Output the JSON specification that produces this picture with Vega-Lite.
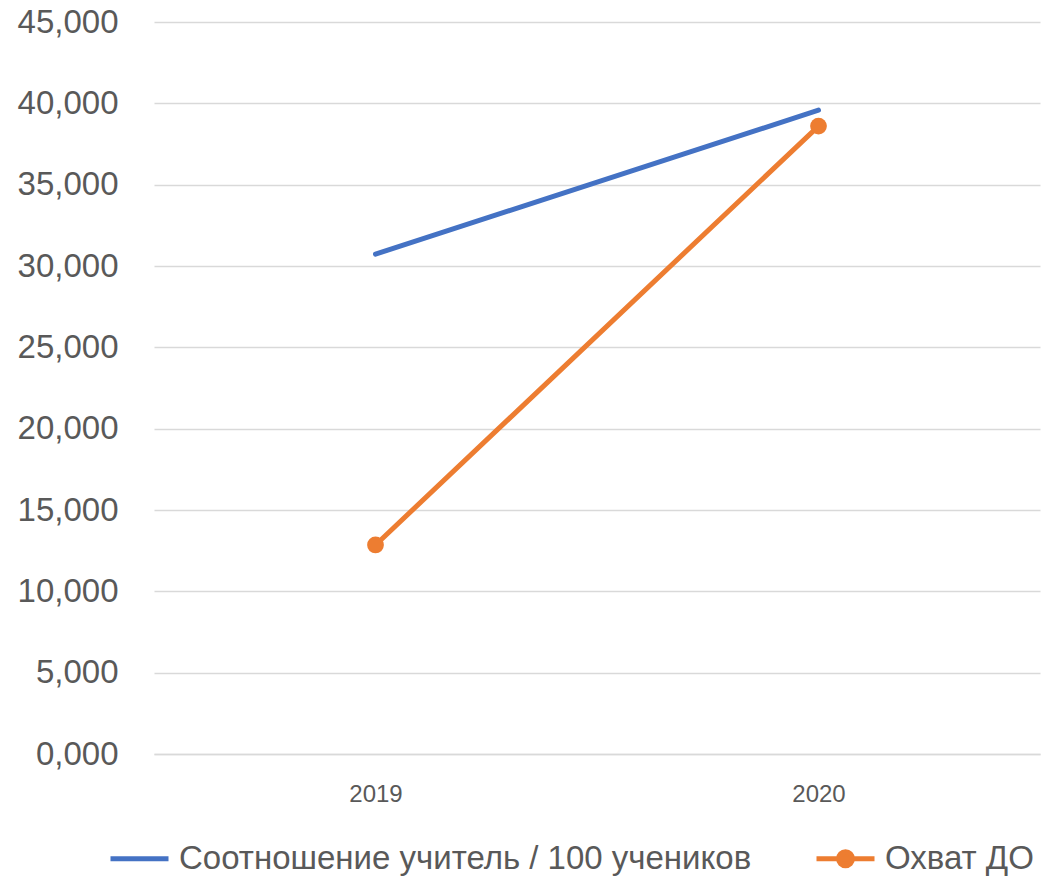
{
  "$schema": "https://vega.github.io/schema/vega-lite/v6.json",
  "width": 886,
  "height": 732,
  "autosize": {"type": "none"},
  "padding": {"left": 154, "top": 22, "right": 6, "bottom": 127},
  "background": "white",
  "config": {
    "view": {"stroke": null},
    "font": "Liberation Sans"
  },
  "data": {
    "values": [
      {"year": "2019", "series": "Соотношение учитель / 100 учеников", "value": 30.73},
      {"year": "2020", "series": "Соотношение учитель / 100 учеников", "value": 39.58},
      {"year": "2019", "series": "Охват ДО", "value": 12.85},
      {"year": "2020", "series": "Охват ДО", "value": 38.6}
    ]
  },
  "encoding": {
    "x": {
      "field": "year", "type": "ordinal",
      "scale": {"type": "point", "padding": 0.5},
      "axis": {
        "title": null, "labelAngle": 0, "ticks": false,
        "labelFontSize": 24, "labelColor": "#595959", "labelPadding": 28,
        "domainColor": "#D9D9D9", "domainWidth": 1.5
      }
    },
    "y": {
      "field": "value", "type": "quantitative",
      "scale": {"domain": [0, 45], "nice": false},
      "axis": {
        "title": null, "values": [0, 5, 10, 15, 20, 25, 30, 35, 40, 45],
        "labelExpr": "replace(format(datum.value, '.3f'), '.', ',')",
        "labelFontSize": 33, "labelColor": "#595959", "labelPadding": 36,
        "ticks": false, "domain": false,
        "gridColor": "#D9D9D9", "gridWidth": 1.5
      }
    },
    "color": {
      "field": "series", "type": "nominal",
      "sort": ["Соотношение учитель / 100 учеников", "Охват ДО"],
      "scale": {"domain": ["Соотношение учитель / 100 учеников", "Охват ДО"], "range": ["#4472C4", "#ED7D31"]},
      "legend": {
        "title": null, "orient": "none", "direction": "horizontal",
        "legendX": -46, "legendY": 805,
        "labelFontSize": 33, "labelColor": "#595959", "labelLimit": 800,
        "symbolSize": 3364, "symbolStrokeWidth": 5, "labelOffset": 8,
        "columnPadding": 54,
        "encode": {
          "symbols": {
            "update": {
              "shape": {"signal": "datum.value === 'Охват ДО' ? 'M-1,0L1,0M0.24,0A0.24,0.24,0,1,1,-0.24,0A0.24,0.24,0,1,1,0.24,0Z' : 'M-1,0L1,0'"},
              "fill": {"signal": "datum.value === 'Охват ДО' ? '#ED7D31' : 'transparent'"},
              "stroke": {"signal": "datum.value === 'Охват ДО' ? '#ED7D31' : '#4472C4'"},
              "strokeWidth": {"value": 5},
              "opacity": {"value": 1}
            }
          }
        }
      }
    }
  },
  "layer": [
    {"mark": {"type": "line", "strokeWidth": 5, "strokeCap": "round"}},
    {
      "transform": [{"filter": "datum.series === 'Охват ДО'"}],
      "mark": {"type": "point", "filled": true, "size": 280, "opacity": 1}
    }
  ]
}
